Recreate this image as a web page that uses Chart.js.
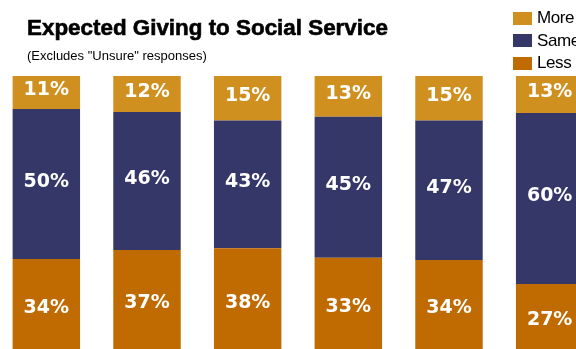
<!DOCTYPE html>
<html>
<head>
<meta charset="utf-8">
<script src="https://cdn.jsdelivr.net/npm/chart.js@4.4.1/dist/chart.umd.min.js"></script>
<style>
    html, body { margin: 0; padding: 0; background: #fff; overflow: hidden; width: 576px; height: 349px; }
    #wrap { position: relative; width: 576px; height: 349px; overflow: hidden; }
    #chart { position: absolute; left: -4px; top: 0; }
    .title { position: absolute; left: 27px; top: 17px; font: bold 22.4px "Liberation Sans", Arial, sans-serif; color: #000; line-height: 1; white-space: nowrap; -webkit-text-stroke: 0.6px #000; }
    .subtitle { position: absolute; left: 27px; top: 49px; font: 13px "Liberation Sans", Arial, sans-serif; color: #000; line-height: 1; white-space: nowrap; }
    #legend { position: absolute; left: 513px; top: 7px; }
    .legend-row { display: flex; align-items: center; height: 22.5px; white-space: nowrap; }
    .legend-box { width: 19px; height: 13px; margin-right: 5px; }
    .legend-text { font: 17px "Liberation Sans", Arial, sans-serif; color: #000; letter-spacing: -0.4px; }
</style>
</head>
<body>
<div id="wrap">
    <canvas id="chart" width="604" height="361"></canvas>
    <div class="title">Expected Giving to Social Service</div>
    <div class="subtitle">(Excludes "Unsure" responses)</div>
    <div id="legend"></div>
</div>
<script>
// Survey answers per group, in percent
const groups = ['1', '2', '3', '4', '5', '6'];
const lessValues = [34, 37, 38, 33, 34, 27];
const sameValues = [50, 46, 43, 45, 47, 60];
const moreValues = [11, 12, 15, 13, 15, 13];

const colors = {
    more: '#D09020',
    same: '#343768',
    less: '#C06A02'
};

// Bars are stacked to 100% of each group's answers
const totals = groups.map((_, i) => lessValues[i] + sameValues[i] + moreValues[i]);
const share = values => values.map((v, i) => v / totals[i] * 100);

const makeDataset = (label, values, color) => ({
    label,
    data: share(values),
    raw: values,
    backgroundColor: color,
    borderWidth: 0,
    categoryPercentage: 1,
    barPercentage: 0.67
});

// Draws the raw percentage in the middle of every segment
const segmentLabels = {
    id: 'segmentLabels',
    afterDatasetsDraw(chart) {
        const ctx = chart.ctx;
        ctx.save();
        ctx.fillStyle = '#fff';
        ctx.font = 'bold 19px "DejaVu Sans", sans-serif';
        ctx.textAlign = 'center';
        ctx.textBaseline = 'middle';
        chart.data.datasets.forEach((ds, di) => {
            const meta = chart.getDatasetMeta(di);
            meta.data.forEach((bar, i) => {
                const { x, y, base } = bar.getProps(['x', 'y', 'base'], true);
                ctx.fillText(ds.raw[i] + '%', x, (y + base) / 2 - 2);
            });
        });
        ctx.restore();
    }
};

const chart = new Chart(document.getElementById('chart'), {
    type: 'bar',
    data: {
        labels: groups,
        datasets: [
            makeDataset('Less', lessValues, colors.less),
            makeDataset('Same', sameValues, colors.same),
            makeDataset('More', moreValues, colors.more)
        ]
    },
    options: {
        responsive: false,
        animation: false,
        layout: { padding: { top: 76, bottom: 0, left: 0, right: 0 } },
        plugins: {
            legend: { display: false },
            tooltip: { enabled: false }
        },
        scales: {
            x: { stacked: true, display: false },
            y: { stacked: true, display: false, min: 0, max: 100 }
        }
    },
    plugins: [segmentLabels]
});

// Legend list, top to bottom in the same order as the stack
const legendEl = document.getElementById('legend');
Chart.defaults.plugins.legend.labels.generateLabels(chart).reverse().forEach(item => {
    const row = document.createElement('div');
    row.className = 'legend-row';
    row.innerHTML = `<span class="legend-box" style="background:${item.fillStyle}"></span><span class="legend-text">${item.text}</span>`;
    legendEl.appendChild(row);
});
</script>
</body>
</html>
